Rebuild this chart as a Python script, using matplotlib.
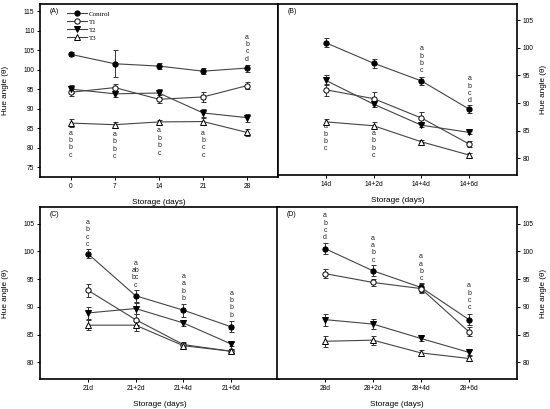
import matplotlib
matplotlib.use("Agg")
import matplotlib.pyplot as plt
import numpy as np

plt.rcParams['font.family'] = ['Liberation Sans', 'DejaVu Sans']

series = ["Control", "T1", "T2", "T3"]

# Panel A
a_x = [0, 7, 14, 21, 28]
a_ticks = ["0", "7", "14", "21", "28"]
a_vals = {
    "Control": [103.9, 101.5, 100.9, 99.6, 100.4],
    "T1": [94.2, 95.4, 92.4, 93.0, 95.9],
    "T2": [95.0, 93.8, 94.0, 88.9, 87.7],
    "T3": [86.3, 85.9, 86.6, 86.7, 83.9],
}
a_err = {
    "Control": [0.5, 3.5, 0.8, 0.8, 0.9],
    "T1": [1.0, 0.8, 1.0, 1.2, 0.8],
    "T2": [1.0, 0.8, 1.0, 1.0, 1.0],
    "T3": [1.0, 0.8, 0.5, 0.9, 1.0],
}
a_letters = [(0, 83.7, "abbc"), (1, 83.4, "abbc"), (2, 84.3, "abbc"),
             (3, 83.7, "abcc"), (4, 108.3, "abcd")]

# Panel B
b_ticks = ["14d", "14+2d", "14+4d", "14+6d"]
b_vals = {
    "Control": [100.9, 97.2, 94.0, 88.9],
    "T1": [92.4, 90.8, 87.3, 82.6],
    "T2": [94.1, 89.8, 86.0, 84.7],
    "T3": [86.6, 85.9, 83.0, 80.6],
}
b_err = {
    "Control": [0.85, 0.8, 0.7, 0.7],
    "T1": [1.1, 1.2, 1.0, 0.5],
    "T2": [0.9, 0.6, 0.4, 0.3],
    "T3": [0.5, 0.6, 0.3, 0.3],
}
b_letters = [(0, 85.7, "abbc"), (1, 84.5, "abbc"), (2, 99.8, "abbc"), (3, 94.4, "abcd")]

# Panel C
c_ticks = ["21d", "21+2d", "21+4d", "21+6d"]
c_vals = {
    "Control": [99.6, 92.0, 89.4, 86.4],
    "T1": [93.0, 87.7, 83.2, 82.0],
    "T2": [88.9, 89.7, 87.1, 83.3],
    "T3": [86.7, 86.7, 83.0, 82.0],
}
c_err = {
    "Control": [0.85, 1.05, 1.2, 1.0],
    "T1": [1.2, 1.0, 0.4, 0.4],
    "T2": [1.05, 1.0, 0.5, 0.4],
    "T3": [0.95, 1.0, 0.4, 0.4],
}
c_letters = [(0, 105.2, ["a", "b", "c", "c"]), (1, 97.9, ["a", "ab", "bc", "c"]),
             (2, 95.5, ["a", "a", "b", "b"]), (3, 92.5, ["a", "b", "b", "b"])]

# Panel D
d_ticks = ["28d", "28+2d", "28+4d", "28+6d"]
d_vals = {
    "Control": [100.5, 96.5, 93.5, 87.7],
    "T1": [96.0, 94.4, 93.3, 85.5],
    "T2": [87.7, 86.9, 84.3, 81.8],
    "T3": [83.8, 84.0, 81.7, 80.7],
}
d_err = {
    "Control": [1.0, 1.0, 0.8, 1.0],
    "T1": [0.8, 0.7, 0.8, 0.8],
    "T2": [1.1, 0.9, 0.5, 0.5],
    "T3": [1.0, 0.8, 0.6, 0.5],
}
d_letters = [(0, 106.4, "abcd"), (1, 102.4, "aabc"), (2, 99.05, "aabc"), (3, 93.8, "abcc")]

styles = {
    "Control": dict(marker="o", mfc="black"),
    "T1": dict(marker="o", mfc="white"),
    "T2": dict(marker="v", mfc="black"),
    "T3": dict(marker="^", mfc="white"),
}

W, H = 550, 409
fig = plt.figure(figsize=(W / 100, H / 100), dpi=100)


def px_axes(l, t, r, b):
    return fig.add_axes([l / W, 1 - b / H, (r - l) / W, (b - t) / H])


axA = px_axes(40, 4, 278, 177)
axB = px_axes(278, 4, 517, 175)
axC = px_axes(40, 207, 279, 379)
axD = px_axes(277, 207, 517, 379)


def draw(ax, x, vals, errs, letters, ticklabels, ylim, xlim, yticks, side, tag):
    lines = []
    for s in series:
        st = styles[s]
        cont = ax.errorbar(x, vals[s], yerr=errs[s], color="#444444", lw=0.8,
                           marker=st["marker"], mfc=st["mfc"], mec="black", ms=3.8,
                           mew=0.7, ecolor="#333333", elinewidth=0.7, capsize=1.8,
                           capthick=0.7, label=s, zorder=3)
        lines.append(cont[0])
    for xi, y0, labs in letters:
        for i, lab in enumerate(labs):
            ax.annotate(lab, (x[xi], y0),
                        xytext=(0, -5.3 * i), textcoords="offset points",
                        ha="center", va="center", fontsize=5, color="#222222")
    ax.set_ylim(*ylim)
    ax.set_xlim(*xlim)
    ax.set_xticks(x)
    ax.set_xticklabels(ticklabels)
    ax.set_yticks(yticks)
    ax.tick_params(labelsize=4.8, length=2.2, width=0.7, pad=1.8, direction="out")
    for sp in ax.spines.values():
        sp.set_linewidth(1.2)
    ax.set_xlabel("Storage (days)", fontsize=5.9)
    ax.xaxis.set_label_coords(0.5, -0.128)
    ax.set_ylabel("Hue angle (θ)", fontsize=5.9)
    if side == "right":
        ax.yaxis.tick_right()
        ax.yaxis.set_label_position("right")
        ax.yaxis.set_label_coords(1.095, 0.5)
    else:
        ax.yaxis.set_label_coords(-0.13, 0.5)
    ax.text(0.04, 0.955, tag, transform=ax.transAxes, fontsize=5, va="center", ha="left")
    return lines


idx4 = [0, 1, 2, 3]
lineA = draw(axA, a_x, a_vals, a_err, a_letters, a_ticks, (72.5, 116.8), (-4.9, 32.9),
             np.arange(75, 116, 5), "left", "(A)")
draw(axB, idx4, b_vals, b_err, b_letters, b_ticks, (77.0, 107.9), (-1.0, 4.0),
     np.arange(80, 106, 5), "right", "(B)")
draw(axC, idx4, c_vals, c_err, c_letters, c_ticks, (77.0, 108.0), (-1.0, 4.0),
     np.arange(80, 106, 5), "left", "(C)")
draw(axD, idx4, d_vals, d_err, d_letters, d_ticks, (77.0, 108.0), (-1.0, 4.0),
     np.arange(80, 106, 5), "right", "(D)")

axA.legend(lineA, series, loc="upper left", bbox_to_anchor=(0.112, 0.96),
           frameon=False, prop={"family": "Liberation Serif", "size": 5},
           handlelength=2.9, handletextpad=0.3, labelspacing=0.3,
           borderpad=0, borderaxespad=0)

fig.savefig("out.png", dpi=100)
